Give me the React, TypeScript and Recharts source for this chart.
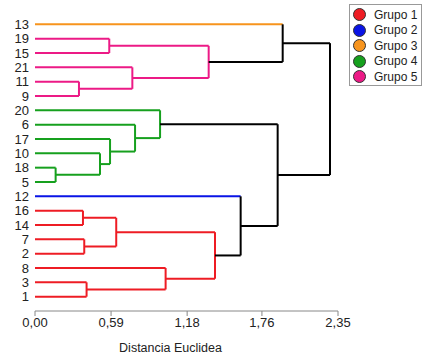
import { ScatterChart, Scatter, XAxis, YAxis } from 'recharts';

// leaves from top to bottom, with the group each one belongs to
const leaves = ['13', '19', '15', '21', '11', '9', '20', '6', '17', '10', '18', '5', '12', '16', '14', '7', '2', '8', '3', '1'];
const leafGroup = [3, 5, 5, 5, 5, 5, 4, 4, 4, 4, 4, 4, 2, 1, 1, 1, 1, 1, 1, 1];

// linkage: [child a, child b, distance]; ids 0..19 are leaves, 20+ are merges in this order
const merges: [number, number, number][] = [
    [10, 11, 0.16],
    [4, 5, 0.341],
    [13, 14, 0.372],
    [15, 16, 0.382],
    [18, 19, 0.4],
    [9, 20, 0.504],
    [1, 2, 0.576],
    [8, 25, 0.582],
    [22, 23, 0.63],
    [3, 21, 0.755],
    [7, 27, 0.776],
    [6, 30, 0.97],
    [17, 24, 1.013],
    [26, 29, 1.347],
    [28, 32, 1.396],
    [12, 34, 1.595],
    [31, 35, 1.882],
    [0, 33, 1.921],
    [37, 36, 2.288],
];

const groups = ['Grupo 1', 'Grupo 2', 'Grupo 3', 'Grupo 4', 'Grupo 5'];
const groupColors = ['#ee1c24', '#0a14e6', '#f7941d', '#16a01e', '#ec1a86'];
const xTicks = [0, 0.59, 1.18, 1.76, 2.35];

const FONT = 'Arial, "Liberation Sans", sans-serif';

// walk the linkage to get node positions and colours
const n = leaves.length;
const nodeY: number[] = leaves.map((_, i) => n - i);
const nodeH: number[] = leaves.map(() => 0);
const nodeG: number[] = leafGroup.slice();
const segments: { color: string; pts: { x: number; y: number }[] }[] = [];

merges.forEach(([a, b, h]) => {
    const y = (nodeY[a] + nodeY[b]) / 2;
    const g = nodeG[a] === nodeG[b] ? nodeG[a] : 0;
    const own = g ? groupColors[g - 1] : '#000000';
    const armColor = (c: number) => (g ? own : c < n ? groupColors[nodeG[c] - 1] : '#000000');
    segments.push({ color: armColor(a), pts: [{ x: nodeH[a], y: nodeY[a] }, { x: h, y: nodeY[a] }] });
    segments.push({ color: own, pts: [{ x: h, y: nodeY[a] }, { x: h, y: nodeY[b] }] });
    segments.push({ color: armColor(b), pts: [{ x: nodeH[b], y: nodeY[b] }, { x: h, y: nodeY[b] }] });
    nodeY.push(y);
    nodeH.push(h);
    nodeG.push(g);
});

export default function App() {
    return (
        <div style={{ position: 'absolute', left: 0, top: 0, width: 440, height: 362, background: '#fff', fontFamily: FONT }}>
            <ScatterChart width={440} height={362} margin={{ top: 10, right: 102, bottom: 6, left: 0 }}>
                <XAxis
                    type="number"
                    dataKey="x"
                    domain={[0, 2.35]}
                    ticks={xTicks}
                    interval={0}
                    tickFormatter={(v: number) => v.toFixed(2).replace('.', ',')}
                    stroke="#888"
                    tick={{ fill: '#222', fontSize: 13, fontFamily: FONT }}
                    tickSize={5}
                    height={45}
                    label={{ value: 'Distancia Euclidea', position: 'insideBottom', offset: 4, dx: -16, fill: '#222', fontSize: 12.5, fontFamily: FONT }}
                />
                <YAxis
                    type="number"
                    dataKey="y"
                    domain={[0, n + 1]}
                    ticks={leaves.map((_, i) => n - i)}
                    interval={0}
                    tickFormatter={(v: number) => leaves[n - v]}
                    axisLine={false}
                    tickLine={false}
                    tickSize={4}
                    width={35}
                    tick={{ fill: '#222', fontSize: 13, fontFamily: FONT }}
                />
                {segments.map((s, i) => (
                    <Scatter
                        key={i}
                        data={s.pts}
                        fill={s.color}
                        stroke={s.color}
                        line={{ stroke: s.color, strokeWidth: 2 }}
                        lineType="joint"
                        shape={() => <g />}
                        isAnimationActive={false}
                    />
                ))}
            </ScatterChart>
            <div
                style={{
                    position: 'absolute',
                    left: 349,
                    top: 4,
                    width: 71,
                    height: 80,
                    border: '1px solid #999',
                    background: '#fff',
                    boxSizing: 'content-box',
                }}
            >
                {groups.map((g, i) => (
                    <div key={g} style={{ display: 'flex', alignItems: 'center', height: 15.5, marginTop: i === 0 ? 2 : 0, fontSize: 12, color: '#222' }}>
                        <span
                            style={{
                                display: 'inline-block',
                                width: 11,
                                height: 11,
                                borderRadius: '50%',
                                background: groupColors[i],
                                border: '1px solid #333',
                                marginLeft: 3,
                                marginRight: 8,
                            }}
                        />
                        {g}
                    </div>
                ))}
            </div>
        </div>
    );
}
